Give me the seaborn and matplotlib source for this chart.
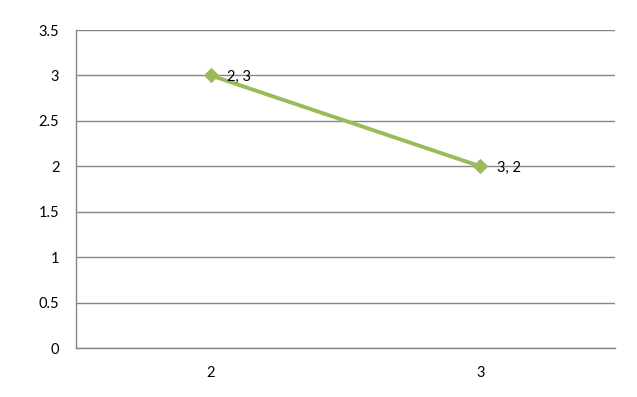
import matplotlib
matplotlib.use("Agg")
import matplotlib.pyplot as plt
import seaborn as sns
import pandas as pd
from matplotlib.ticker import MultipleLocator, FixedLocator

categories = ["2", "3"]
values = [3, 2]
point_labels = ["2, 3", "3, 2"]

sns.set_style("white")
plt.rcParams['font.family'] = ['Lato', 'DejaVu Sans']

df = pd.DataFrame({"x": list(range(len(categories))), "y": values})

fig = plt.figure(figsize=(6.37, 3.97), dpi=100)
ax = fig.add_axes([76/637, 1 - 348/397, (615-76)/637, (348-30)/397])

grid_color = "#868686"
line_color = "#9BBB59"

sns.lineplot(data=df, x="x", y="y", ax=ax, color=line_color, linewidth=2.8,
             marker="D", markersize=7, markeredgecolor=line_color, zorder=3)

for xi, yi, lab in zip(df["x"], df["y"], point_labels):
    ax.annotate(lab, (xi, yi), xytext=(12, -1), textcoords="offset points",
                ha="left", va="center", fontsize=10.5, color="black", zorder=4)

ax.set_xlim(-0.5, len(categories) - 0.5)
ax.set_ylim(0, 3.5)
ax.yaxis.set_major_locator(MultipleLocator(0.5))
ax.set_yticklabels([f"{v:g}" for v in ax.get_yticks()])
ax.set_xticks(range(len(categories)))
ax.set_xticklabels(categories)
ax.xaxis.set_minor_locator(FixedLocator([i - 0.5 for i in range(len(categories) + 1)]))
ax.tick_params(axis="x", which="major", length=0, pad=13, labelsize=10.5, colors="black")
ax.tick_params(axis="x", which="minor", length=5, width=1, color=grid_color, direction="out")
ax.tick_params(axis="y", which="major", length=5, width=1, color=grid_color, direction="out",
               pad=7, labelsize=10.5, labelcolor="black")
ax.set_xlabel("")
ax.set_ylabel("")

ax.grid(axis="y", color=grid_color, linewidth=1)
ax.set_axisbelow(True)
for s in ["top", "right"]:
    ax.spines[s].set_visible(False)
for s in ["left", "bottom"]:
    ax.spines[s].set_color(grid_color)
    ax.spines[s].set_linewidth(1)

fig.savefig("out.png", dpi=100)
